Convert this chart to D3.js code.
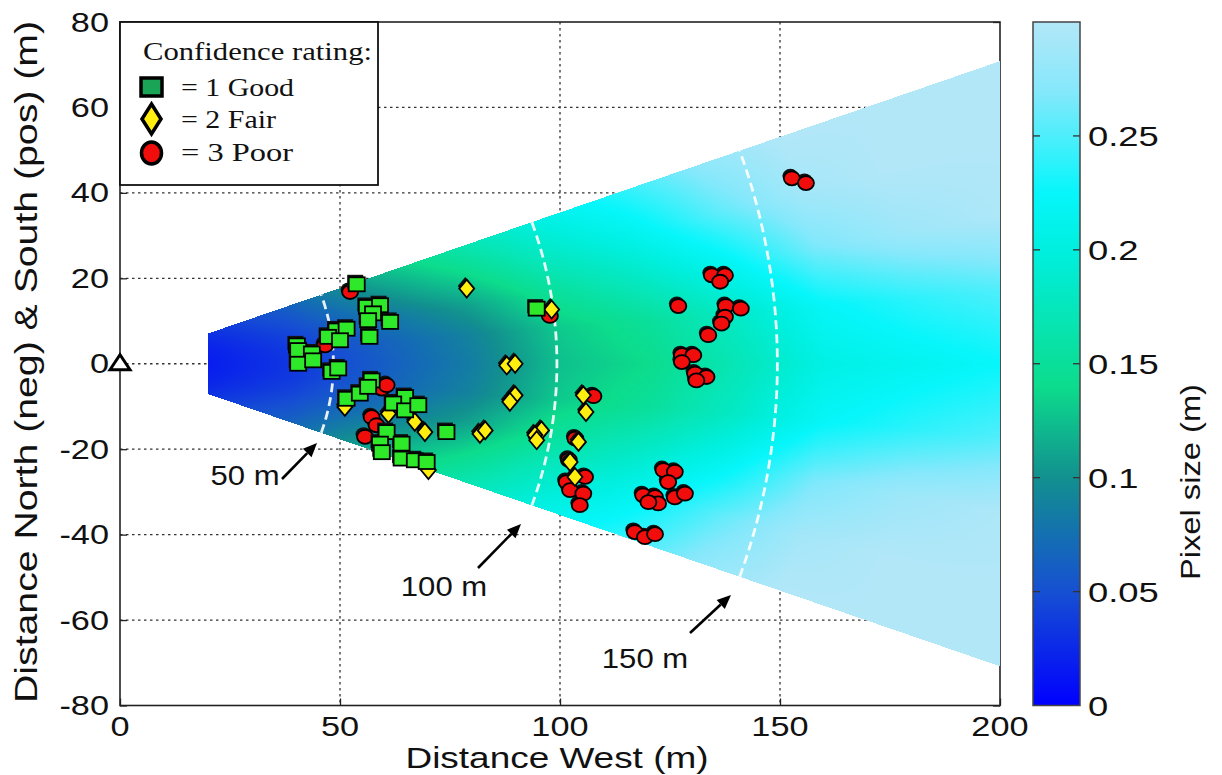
<!DOCTYPE html>
<html><head><meta charset="utf-8">
<script src="https://cdn.jsdelivr.net/npm/d3@7"></script>
<style>html,body{margin:0;padding:0;background:#fff;}svg{display:block;}</style>
</head><body>
<svg id="chart" width="1222" height="775"></svg>
<script>
// ---------------- data ----------------
const xTicks = [0, 50, 100, 150, 200];
const yTicks = [-80, -60, -40, -20, 0, 20, 40, 60, 80];
const cbTicks = [0, 0.05, 0.1, 0.15, 0.2, 0.25];
const cbTickLabels = ["0", "0.05", "0.1", "0.15", "0.2", "0.25"];

// confidence 1 (Good) squares [distance west, distance N/S]
const goodPoints = [[53.8,18.6],[56.1,13.3],[59.1,13.7],[57.5,11.8],[56.4,10.2],[61.4,9.8],[56.7,6.3],
  [49.2,7.8],[51.5,8.2],[47.3,6.3],[50,5.5],[40.2,4.3],[40.5,3.2],[43.6,2.4],[40.5,0],[43.9,0.8],
  [48.1,-1.9],[49.6,-1.1],[51.5,-8.2],[54.5,-7],[57.2,-3.9],[56.4,-5.4],[64.8,-7.8],[62.1,-9.3],
  [64.8,-10.9],[67.8,-9.7],[60.6,-16],[59.1,-18.7],[64,-18.7],[59.5,-20.7],[64,-22.2],[67,-22.6],
  [69.7,-23],[74.2,-16],[94.7,12.9]];
// confidence 2 (Fair) diamonds
const fairPoints = [[51.1,-10.1],[61,-11.7],[67,-13.6],[69.3,-16],[70.1,-24.9],[78.8,17.6],[98.1,12.7],
  [87.9,-0.4],[89.8,0],[89.8,-7.4],[88.6,-8.9],[81.8,-16.4],[83,-15.6],[95.8,-15.6],[94.3,-16.7],
  [94.7,-17.9],[105.3,-7.4],[105.9,-11.3],[104.2,-18.3],[102.3,-23],[103.4,-26.5]];
// confidence 3 (Poor) circles
const poorPoints = [[52.3,16.8],[46.6,4.3],[59.5,-5.8],[60.6,-5],[57.2,-12.5],[58.3,-14.4],[55.7,-17.1],
  [97.7,11.2],[107.6,-7.6],[103.5,-17.5],[102,-22.5],[105.7,-26.5],[101.5,-27.7],[102.3,-29.6],
  [105.3,-30.4],[104.5,-33.1],[134.5,20.7],[137.5,20.7],[136.4,19.2],[126.9,13.5],[137.7,13.5],
  [141.1,12.9],[137.5,11],[136.7,9.4],[133.7,6.7],[127.7,2],[130.3,2],[127.7,0.4],[130.7,-2.3],
  [133.3,-3.1],[131,-3.9],[123.5,-24.9],[126.1,-25.3],[124.6,-27.7],[118.9,-30.8],[121.6,-31.2],
  [122.3,-32.7],[120.1,-32.4],[126.1,-31.3],[128.4,-30.4],[117,-39.4],[119.3,-40.6],[121.6,-39.9],
  [152.7,43.4],[155.9,42.3]];

// pixel-size field: rows = range (m), cols = fraction of half view angle
const fieldRanges = [20, 40, 60, 80, 100, 120, 140, 160, 180, 200, 215];
const fieldAngleFrac = [0, 0.25, 0.5, 0.75, 1];
const fieldValues = [
  [0.018, 0.019, 0.021, 0.024, 0.028],
  [0.035, 0.037, 0.043, 0.052, 0.062],
  [0.060, 0.064, 0.076, 0.096, 0.115],
  [0.085, 0.090, 0.108, 0.135, 0.160],
  [0.125, 0.130, 0.152, 0.180, 0.202],
  [0.140, 0.150, 0.182, 0.212, 0.237],
  [0.170, 0.182, 0.218, 0.255, 0.276],
  [0.205, 0.222, 0.265, 0.290, 0.300],
  [0.215, 0.238, 0.285, 0.300, 0.300],
  [0.225, 0.250, 0.295, 0.300, 0.300],
  [0.235, 0.262, 0.300, 0.300, 0.300]];
const wedgeMinX = 20, wedgeMaxX = 200, halfAngleDeg = 19.5;

// range rings (white dashed) and their labels
const ringRadii = [48.5, 99.3, 149.4];
const ringLabels = ["50 m", "100 m", "150 m"];

// colormap
const cmapValues = [0, 0.05, 0.1, 0.14, 0.2, 0.225, 0.27, 0.3];
const cmapColors = ["#0000ff", "#1650d2", "#12908f", "#0cdc8c", "#00efdf", "#06f6fb", "#86e8fb", "#b2e7f8"];

const legendLabels = ["= 1 Good", "= 2 Fair", "= 3 Poor"];

// ---------------- layout ----------------
const W = 1222, H = 775;
const px0 = 120, px1 = 1000, py0 = 22, py1 = 705.5;
const svg = d3.select("#chart");
const x = d3.scaleLinear().domain([0, 200]).range([px0, px1]);
const y = d3.scaleLinear().domain([-80, 80]).range([py1, py0]);
const color = d3.scaleLinear().domain(cmapValues).range(cmapColors).clamp(true);
const SX = 1.27; // horizontal stretch of text in the reference

function stretch(sel, sx) {
  sel.each(function () {
    const w = this.getComputedTextLength();
    d3.select(this).attr("textLength", w * sx).attr("lengthAdjust", "spacingAndGlyphs");
  });
}

// grid (under wedge)
const grid = svg.append("g").attr("stroke", "#333").attr("stroke-width", 1.3).attr("stroke-dasharray", "2.5,3.5");
grid.selectAll(".gx").data(xTicks.slice(1, -1)).join("line")
  .attr("x1", d => x(d)).attr("x2", d => x(d)).attr("y1", py0).attr("y2", py1);
grid.selectAll(".gy").data(yTicks.slice(1, -1)).join("line")
  .attr("y1", d => y(d)).attr("y2", d => y(d)).attr("x1", px0).attr("x2", px1);

// box axes
const axG = svg.append("g");
axG.append("rect").attr("x", px0).attr("y", py0).attr("width", px1 - px0).attr("height", py1 - py0)
  .attr("fill", "none").attr("stroke", "#222").attr("stroke-width", 1.6);
const xAxis = d3.axisBottom(x).tickValues(xTicks).tickSize(-7).tickFormat("");
const yAxis = d3.axisLeft(y).tickValues(yTicks).tickSize(-7).tickFormat("");
axG.append("g").attr("transform", `translate(0,${py1})`).call(xAxis).call(g => g.select(".domain").remove())
  .selectAll("line").attr("stroke", "#222").attr("stroke-width", 1.3);
axG.append("g").attr("transform", `translate(${px0},0)`).call(yAxis).call(g => g.select(".domain").remove())
  .selectAll("line").attr("stroke", "#222").attr("stroke-width", 1.3);
axG.append("g").attr("transform", `translate(${px1},0)`).call(d3.axisRight(y).tickValues(yTicks).tickSize(-7).tickFormat(""))
  .call(g => g.select(".domain").remove()).selectAll("line").attr("stroke", "#222").attr("stroke-width", 1.3);

// wedge field raster
function fieldAt(r, f) {
  const ri = d3.bisectRight(fieldRanges, r) - 1;
  const i0 = Math.max(0, Math.min(fieldRanges.length - 2, ri));
  const tr = Math.max(0, Math.min(1, (r - fieldRanges[i0]) / (fieldRanges[i0 + 1] - fieldRanges[i0])));
  const fj = d3.bisectRight(fieldAngleFrac, f) - 1;
  const j0 = Math.max(0, Math.min(fieldAngleFrac.length - 2, fj));
  const tf = Math.max(0, Math.min(1, (f - fieldAngleFrac[j0]) / (fieldAngleFrac[j0 + 1] - fieldAngleFrac[j0])));
  const a = fieldValues[i0][j0] * (1 - tf) + fieldValues[i0][j0 + 1] * tf;
  const b = fieldValues[i0 + 1][j0] * (1 - tf) + fieldValues[i0 + 1][j0 + 1] * tf;
  return a * (1 - tr) + b * tr;
}
const cw = Math.round(px1 - px0), ch = Math.round(py1 - py0);
const canvas = document.createElement("canvas");
canvas.width = cw; canvas.height = ch;
const ctx = canvas.getContext("2d");
const img = ctx.createImageData(cw, ch);
const tanA = Math.tan(halfAngleDeg * Math.PI / 180);
const halfRad = halfAngleDeg * Math.PI / 180;
for (let j = 0; j < ch; j++) {
  const dy = y.invert(py0 + j + 0.5);
  for (let i = 0; i < cw; i++) {
    const dx = x.invert(px0 + i + 0.5);
    if (dx < wedgeMinX || dx > wedgeMaxX) continue;
    if (Math.abs(dy) > dx * tanA) continue;
    const r = Math.hypot(dx, dy);
    const f = Math.abs(Math.atan2(dy, dx)) / halfRad;
    const c = d3.rgb(color(fieldAt(r, f)));
    const k = (j * cw + i) * 4;
    img.data[k] = c.r; img.data[k + 1] = c.g; img.data[k + 2] = c.b; img.data[k + 3] = 255;
  }
}
ctx.putImageData(img, 0, 0);
svg.append("image").attr("x", px0).attr("y", py0).attr("width", cw).attr("height", ch)
  .attr("preserveAspectRatio", "none").attr("href", canvas.toDataURL());

// range rings
const arcPath = r => {
  const pts = d3.range(-halfRad, halfRad + 1e-9, halfRad / 40).map(t => [x(r * Math.cos(t)), y(r * Math.sin(t))]);
  return d3.line()(pts);
};
svg.append("g").selectAll("path").data(ringRadii).join("path")
  .attr("d", arcPath).attr("fill", "none").attr("stroke", "#fff").attr("stroke-width", 2.8)
  .attr("stroke-dasharray", "9,5").attr("opacity", 0.9);

// markers
const mk = svg.append("g");
function drawSet(points, type, fill) {
  const g = mk.append("g");
  const shape = (sel, dx, dy) => {
    if (type === "circle") {
      sel.append("ellipse").attr("cx", d => x(d[0]) + dx).attr("cy", d => y(d[1]) + dy).attr("rx", 8).attr("ry", 7);
    } else if (type === "square") {
      sel.append("rect").attr("x", d => x(d[0]) - 8 + dx).attr("y", d => y(d[1]) - 7 + dy).attr("width", 16).attr("height", 14);
    } else {
      sel.append("path").attr("d", d => {
        const cx = x(d[0]) + dx, cy = y(d[1]) + dy;
        return `M${cx},${cy - 9}L${cx + 7.5},${cy}L${cx},${cy + 9}L${cx - 7.5},${cy}Z`;
      });
    }
  };
  const sh = g.selectAll("g.s").data(points).join("g").attr("fill", "#111");
  shape(sh, -1.5, -2.5);
  const fg = g.selectAll("g.f").data(points).join("g").attr("fill", fill).attr("stroke", "#000").attr("stroke-width", 1.8);
  shape(fg, 0, 0);
}
drawSet(poorPoints, "circle", "#f20d0d");
drawSet(fairPoints, "diamond", "#ffee10");
drawSet(goodPoints, "square", "#2ee82a");

// origin triangle
svg.append("path").attr("d", () => {
  const cx = x(0), cy = y(0);
  return `M${cx - 10},${cy + 6}L${cx},${cy - 9}L${cx + 10},${cy + 6}Z`;
}).attr("fill", "#fff").attr("stroke", "#000").attr("stroke-width", 3).attr("stroke-linejoin", "miter");

// arrows + ring labels
const arrowSpecs = [
  { tail: [282, 479], tip: [317, 443], tx: 245, ty: 485 },
  { tail: [478, 568], tip: [521, 524], tx: 444, ty: 596 },
  { tail: [690, 633], tip: [731, 595], tx: 645, ty: 668 }];
const arG = svg.append("g");
arrowSpecs.forEach((a, i) => {
  const ang = Math.atan2(a.tip[1] - a.tail[1], a.tip[0] - a.tail[0]);
  const hl = 14, hw = 6;
  const bx = a.tip[0] - hl * Math.cos(ang), by = a.tip[1] - hl * Math.sin(ang);
  arG.append("line").attr("x1", a.tail[0]).attr("y1", a.tail[1]).attr("x2", bx).attr("y2", by)
    .attr("stroke", "#000").attr("stroke-width", 2.6);
  arG.append("path").attr("d", `M${a.tip[0]},${a.tip[1]}L${bx + hw * Math.sin(ang)},${by - hw * Math.cos(ang)}L${bx - hw * Math.sin(ang)},${by + hw * Math.cos(ang)}Z`)
    .attr("fill", "#000");
  arG.append("text").attr("x", a.tx).attr("y", a.ty).attr("text-anchor", "middle")
    .attr("font-family", "Liberation Sans, Arial, sans-serif").attr("font-size", 27).attr("fill", "#111")
    .text(ringLabels[i]).call(stretch, 1.15);
});

// tick labels
const font = "Liberation Sans, Arial, Helvetica, sans-serif";
svg.append("g").selectAll("text").data(xTicks).join("text")
  .attr("x", d => x(d)).attr("y", 736).attr("text-anchor", "middle")
  .attr("font-family", font).attr("font-size", 27).attr("fill", "#111").text(d => d).call(stretch, SX);
svg.append("g").selectAll("text").data(yTicks).join("text")
  .attr("x", 109).attr("y", d => y(d) + 9.5).attr("text-anchor", "end")
  .attr("font-family", font).attr("font-size", 27).attr("fill", "#111").text(d => d).call(stretch, SX);

// axis titles
svg.append("text").attr("x", 557).attr("y", 768).attr("text-anchor", "middle")
  .attr("font-family", font).attr("font-size", 29).attr("fill", "#111")
  .attr("textLength", 303).attr("lengthAdjust", "spacingAndGlyphs").text("Distance West (m)");
svg.append("text").attr("transform", "translate(37,362) rotate(-90)").attr("text-anchor", "middle")
  .attr("font-family", font).attr("font-size", 31).attr("fill", "#111")
  .attr("textLength", 682).attr("lengthAdjust", "spacingAndGlyphs").text("Distance North (neg) & South (pos) (m)");

// legend
const lg = svg.append("g");
lg.append("rect").attr("x", px0).attr("y", py0).attr("width", 258).attr("height", 163)
  .attr("fill", "#fff").attr("stroke", "#111").attr("stroke-width", 1.8);
const serif = "Liberation Serif, Times New Roman, serif";
lg.append("text").attr("x", 143).attr("y", 60).attr("font-family", serif).attr("font-size", 26).attr("fill", "#111")
  .attr("textLength", 229).attr("lengthAdjust", "spacingAndGlyphs").text("Confidence rating:");
const legY = [87, 119, 153], legTY = [96, 128, 161], legTL = [113, 95, 112];
lg.append("rect").attr("x", 141).attr("y", legY[0] - 9).attr("width", 21).attr("height", 18)
  .attr("fill", "#1aa556").attr("stroke", "#000").attr("stroke-width", 3.5);
lg.append("path").attr("d", `M151.5,${legY[1] - 15}L161,${legY[1]}L151.5,${legY[1] + 15}L142,${legY[1]}Z`)
  .attr("fill", "#ffee10").attr("stroke", "#000").attr("stroke-width", 3.5);
lg.append("ellipse").attr("cx", 151.5).attr("cy", legY[2]).attr("rx", 10).attr("ry", 11)
  .attr("fill", "#f20d0d").attr("stroke", "#000").attr("stroke-width", 3.5);
legendLabels.forEach((t, i) => {
  lg.append("text").attr("x", 181).attr("y", legTY[i]).attr("font-family", serif).attr("font-size", 26)
    .attr("fill", "#111").attr("textLength", legTL[i]).attr("lengthAdjust", "spacingAndGlyphs").text(t);
});

// colorbar
const cbX0 = 1033, cbX1 = 1080;
const cy = d3.scaleLinear().domain([0, 0.3]).range([py1, py0]);
const defs = svg.append("defs");
const grad = defs.append("linearGradient").attr("id", "cbgrad").attr("x1", 0).attr("y1", 1).attr("x2", 0).attr("y2", 0);
grad.selectAll("stop").data(cmapValues).join("stop")
  .attr("offset", d => d / 0.3).attr("stop-color", (d, i) => cmapColors[i]);
svg.append("rect").attr("x", cbX0).attr("y", py0).attr("width", cbX1 - cbX0).attr("height", py1 - py0)
  .attr("fill", "url(#cbgrad)").attr("stroke", "#444").attr("stroke-width", 1.5);
const cbt = svg.append("g").attr("stroke", "#333").attr("stroke-width", 1.3);
cbt.selectAll(".l").data(cbTicks.slice(1)).join("line").attr("x1", cbX0).attr("x2", cbX0 + 7)
  .attr("y1", d => cy(d)).attr("y2", d => cy(d));
cbt.selectAll(".r").data(cbTicks.slice(1)).join("line").attr("x1", cbX1 - 7).attr("x2", cbX1)
  .attr("y1", d => cy(d)).attr("y2", d => cy(d));
svg.append("g").selectAll("text").data(cbTicks).join("text")
  .attr("x", 1088).attr("y", d => cy(d) + 10).attr("font-family", font).attr("font-size", 28)
  .attr("fill", "#111").text((d, i) => cbTickLabels[i]).call(stretch, 1.3);
svg.append("text").attr("transform", "translate(1200,482) rotate(-90)").attr("text-anchor", "middle")
  .attr("font-family", font).attr("font-size", 27).attr("fill", "#111")
  .attr("textLength", 196).attr("lengthAdjust", "spacingAndGlyphs").text("Pixel size (m)");
</script>
</body></html>
